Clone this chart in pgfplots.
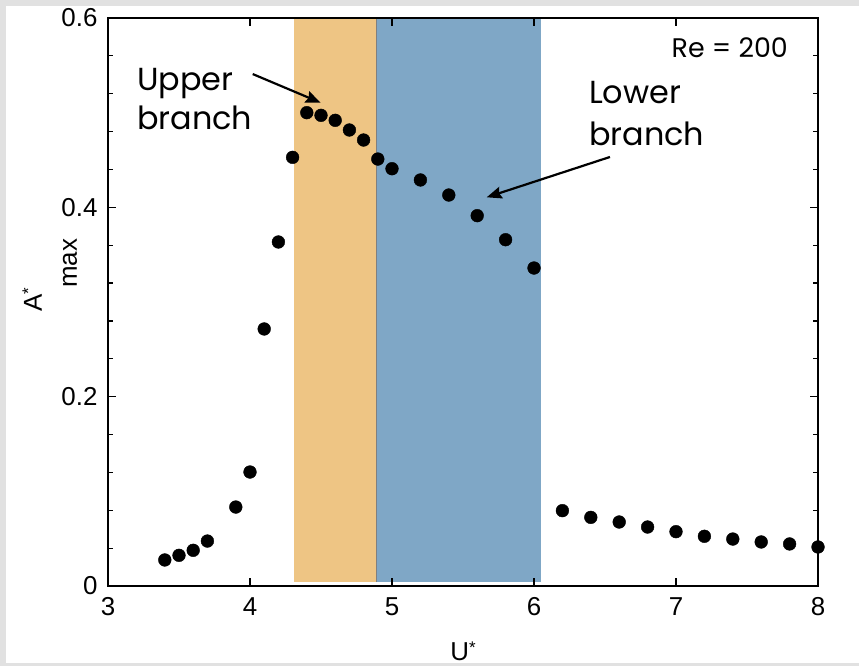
\documentclass[border=0pt]{standalone}
\usepackage{fontspec}
\setmainfont{Liberation Sans}
\newfontfamily\gothic{Poppins}
\usepackage{pgfplots}
\pgfplotsset{compat=1.18}
\usetikzlibrary{arrows.meta}
\definecolor{bandorange}{RGB}{238,197,132}
\definecolor{bandblue}{RGB}{127,167,198}
\definecolor{framegray}{RGB}{225,225,225}
\begin{document}
\begin{tikzpicture}
\path[use as bounding box] (-108bp,-80bp) rectangle (751bp,586bp);
\begin{axis}[
  at={(0,0)}, anchor=south west,
  scale only axis, width=710bp, height=568bp,
  xmin=3, xmax=8, ymin=0, ymax=0.6,
  xtick={3,4,5,6,7,8}, ytick={0,0.2,0.4,0.6},
  minor y tick num=4,
  tick align=inside,
  major tick length=8bp, minor tick length=5bp,
  axis line style={line width=1.4bp},
  tick style={black, line width=1.2bp},
  tick label style={font=\fontsize{26}{30}\selectfont},
  /pgf/number format/assume math mode=true,
  xticklabel style={yshift=-8bp},
  yticklabel style={xshift=-7bp},
  clip=false,
  axis on top,
  xlabel={U\raisebox{0.3em}{\fontsize{17}{17}\selectfont *}},
  xlabel style={at={(rel axis cs:0.5,-0.1320)}, anchor=base, font=\fontsize{26}{30}\selectfont},
  ylabel={A\raisebox{0.3em}{\fontsize{17}{17}\selectfont *}\raisebox{-35bp}{max}},
  ylabel style={at={(rel axis cs:-0.0930,0.4771)}, anchor=base west, font=\fontsize{26}{30}\selectfont},
]
\addplot[fill=bandorange, draw=none] coordinates {(4.31,0.004) (4.89,0.004) (4.89,0.6) (4.31,0.6)} -- cycle;
\addplot[fill=bandblue, draw=none] coordinates {(4.89,0.004) (6.05,0.004) (6.05,0.6) (4.89,0.6)} -- cycle;
\addplot[gray, line width=0.8bp] coordinates {(4.89,0.004) (4.89,0.6)};
\addplot[only marks, mark=*, mark size=6.4bp, mark options={fill=black, draw=black}] coordinates {
(3.4,0.0275)(3.5,0.0324)(3.6,0.0377)(3.7,0.0475)(3.9,0.0834)(4.0,0.1204)
(4.1,0.2715)(4.2,0.3634)(4.3,0.4528)(4.4,0.500)(4.5,0.4972)(4.6,0.4919)
(4.7,0.4817)(4.8,0.4711)(4.9,0.4510)(5.0,0.4408)(5.2,0.4289)(5.4,0.4130)
(5.6,0.3912)(5.8,0.3658)(6.0,0.3359)(6.2,0.0796)(6.4,0.0725)(6.6,0.0676)
(6.8,0.0623)(7.0,0.0574)(7.2,0.0525)(7.4,0.0496)(7.6,0.0465)(7.8,0.0444)(8.0,0.0412)};
\draw[line width=2.2bp, -{Stealth[length=15bp,width=12bp,inset=2bp]}] (axis cs:4.019,0.5408) -- (axis cs:4.498,0.5105);
\draw[line width=2.2bp, -{Stealth[length=15bp,width=12bp,inset=2bp]}] (axis cs:6.535,0.4532) -- (axis cs:5.667,0.4106);
\node[anchor=base west, inner sep=0, font=\gothic\fontsize{32}{38}\selectfont] at (axis cs:3.204,0.5239) {Upper};
\node[anchor=base west, inner sep=0, font=\gothic\fontsize{32}{38}\selectfont] at (axis cs:3.204,0.4817) {branch};
\node[anchor=base west, inner sep=0, font=\gothic\fontsize{32}{38}\selectfont] at (axis cs:6.387,0.5102) {Lower};
\node[anchor=base west, inner sep=0, font=\gothic\fontsize{32}{38}\selectfont] at (axis cs:6.387,0.4658) {branch};
\node[anchor=base east, inner sep=0, font=\gothic\fontsize{27}{32}\selectfont] at (axis cs:7.789,0.5588) {Re = 200};
\end{axis}
\fill[framegray, even odd rule] (-108bp,-80bp) rectangle (751bp,586bp) (-102bp,-77bp) rectangle (751bp,580bp);
\end{tikzpicture}
\end{document}
